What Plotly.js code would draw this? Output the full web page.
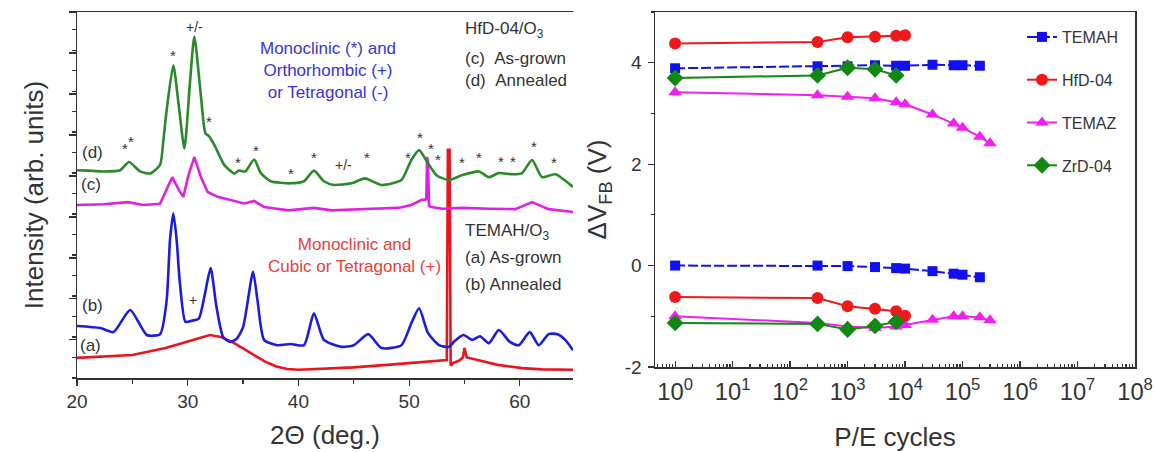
<!DOCTYPE html>
<html><head><meta charset="utf-8">
<script src="https://cdn.plot.ly/plotly-3.0.1.min.js"></script>
<style>html,body{margin:0;padding:0;background:#fff}#chart{width:1156px;height:452px}</style>
</head><body><div id="chart"></div>
<script>
// ---------- Left panel: XRD patterns (2Theta in deg, intensity in arb. units) ----------
const curveA_x = [20, 22, 25, 28, 30, 31, 32, 33, 34, 35, 36, 37, 38, 39, 40, 42, 45, 48, 50, 52, 53.4, 53.5, 53.65, 53.75, 54.0, 54.5, 54.85, 55.0, 55.2, 56, 57.2, 58, 60.2, 62, 64.8];
const curveA_y = [0.49, 0.52, 0.56, 0.73, 0.89, 0.98, 1.05, 1.0, 0.88, 0.72, 0.55, 0.4, 0.28, 0.22, 0.2, 0.22, 0.26, 0.32, 0.36, 0.4, 0.44, 5.57, 5.57, 0.3, 0.37, 0.42, 0.5, 0.73, 0.5, 0.45, 0.37, 0.32, 0.24, 0.21, 0.2];

const curveB_x = [20, 22.1, 23.3, 24.8, 26.3, 27.5, 28.1, 28.4, 28.7, 29.0, 29.3, 29.8, 30.4, 31.0, 31.5, 32.07, 32.6, 33.2, 33.8, 34.4, 35.0, 35.9, 36.3, 36.9, 38.1, 39.3, 40.5, 41.4, 42.3, 43.9, 45.0, 46.3, 47.5, 49.3, 50.2, 50.9, 51.7, 52.7, 53.6, 54.1, 54.9, 55.7, 56.4, 57.2, 58.1, 59.1, 59.9, 60.9, 61.7, 62.6, 63.4, 64.1, 64.8];
const curveB_y = [1.27, 1.22, 1.12, 1.66, 1.05, 1.07, 1.9, 3.37, 4.02, 3.37, 2.3, 1.37, 1.4, 1.45, 1.98, 2.68, 1.73, 1.0, 0.88, 0.95, 1.24, 2.59, 1.9, 0.93, 0.8, 0.83, 0.8, 1.58, 0.93, 0.76, 0.8, 1.07, 0.73, 0.8, 1.34, 1.7, 1.1, 0.8, 0.76, 0.9, 1.05, 0.93, 1.02, 0.85, 1.17, 0.88, 0.8, 1.12, 0.8, 1.07, 1.07, 0.93, 0.68];

const curveC_x = [20, 22.4, 24.6, 26.0, 27.5, 28.1, 28.6, 29.2, 29.6, 30.1, 30.6, 31.2, 31.8, 32.7, 33.9, 35.1, 36.0, 36.9, 39.1, 41.4, 43.0, 45.0, 46.6, 49.0, 50.2, 51.1, 51.55, 51.62, 51.7, 51.8, 52.0, 53.0, 54.8, 57.2, 59.6, 61.1, 62.6, 64.8];
const curveC_y = [4.22, 4.24, 4.29, 4.22, 4.25, 4.59, 4.9, 4.59, 4.42, 4.98, 5.39, 4.9, 4.54, 4.42, 4.34, 4.26, 4.32, 4.17, 4.09, 4.15, 4.09, 4.12, 4.13, 4.15, 4.22, 4.34, 4.36, 5.39, 5.3, 4.2, 4.17, 4.13, 4.15, 4.13, 4.12, 4.29, 4.12, 4.05];

const curveD_x = [20, 21, 22.4, 23.9, 24.7, 25.7, 26.6, 27.5, 27.8, 28.1, 28.7, 29.2, 29.7, 30.2, 30.6, 31.2, 31.6, 31.9, 32.4, 33.3, 34.2, 34.6, 35.2, 36.0, 36.6, 37.5, 39.3, 40.5, 41.4, 42.3, 43.2, 44.8, 46.0, 47.5, 49.3, 50.2, 50.9, 51.7, 52.5, 53.6, 54.8, 56.3, 57.2, 58.1, 59.3, 60.2, 61.1, 62.0, 63.2, 64.8];
const curveD_y = [5.07, 5.06, 5.04, 5.07, 5.27, 5.04, 4.99, 5.2, 5.8, 6.54, 7.63, 6.62, 5.6, 7.2, 8.33, 6.86, 5.97, 5.91, 5.69, 5.2, 4.99, 5.06, 5.04, 5.33, 5.0, 4.8, 4.75, 4.8, 5.06, 4.8, 4.71, 4.75, 4.87, 4.71, 4.83, 5.32, 5.56, 5.24, 4.94, 4.83, 4.95, 5.04, 4.9, 5.0, 4.97, 5.0, 5.32, 4.9, 4.97, 4.66];

// peak markers
const starX = [28.7, 31.9, 24.3, 24.9, 34.5, 36.2, 39.3, 41.4, 46.2, 49.9, 51.0, 52.0, 52.6, 54.8, 56.3, 58.3, 59.4, 61.3, 63.1];
const starY = [8.0, 6.37, 5.73, 5.9, 5.39, 5.68, 5.12, 5.49, 5.49, 5.51, 5.98, 5.71, 5.46, 5.39, 5.49, 5.41, 5.41, 5.76, 5.39];
const signText = ['+/-', '+/-', '+'];
const signX = [30.6, 44.1, 30.5];
const signY = [8.56, 5.2, 1.9];

// curve labels
const curveLabels = ['(a)', '(b)', '(c)', '(d)'];
const curveLabelX = [21.2, 21.4, 21.3, 21.4];
const curveLabelY = [0.8, 1.78, 4.71, 5.49];

// text blocks
const blueNote = 'Monoclinic (*) and<br>Orthorhombic (+)<br>or Tetragonal (-)';
const redNote = 'Monoclinic and<br>Cubic or Tetragonal (+)';
const hfdNote = ['HfD-04/O<sub>3</sub>', '(c)\u00a0\u00a0As-grown', '(d)\u00a0\u00a0Annealed'];
const hfdNoteY = [8.49, 7.8, 7.27];
const temahNote = ['TEMAH/O<sub>3</sub>', '(a) As-grown', '(b) Annealed'];
const temahNoteY = [3.56, 2.93, 2.29];

// ---------- Right panel: flat-band voltage shift vs P/E cycles ----------
const temahX = [1, 300, 1000, 3000, 7000, 10000, 30000, 70000, 100000, 200000];
const temahUp = [3.89, 3.93, 3.93, 3.95, 3.94, 3.94, 3.96, 3.95, 3.95, 3.94];
const temahDown = [0.0, 0.0, -0.01, -0.03, -0.05, -0.06, -0.11, -0.16, -0.18, -0.23];

const hfdX = [1, 300, 1000, 3000, 7000, 10000];
const hfdUp = [4.38, 4.41, 4.5, 4.51, 4.53, 4.54];
const hfdDown = [-0.62, -0.64, -0.8, -0.85, -0.9, -0.99];

const temazX = [1, 300, 1000, 3000, 7000, 10000, 30000, 70000, 100000, 200000, 300000];
const temazUp = [3.42, 3.36, 3.33, 3.3, 3.22, 3.18, 2.98, 2.8, 2.72, 2.54, 2.41];
const temazDown = [-1.0, -1.13, -1.2, -1.23, -1.2, -1.17, -1.07, -1.0, -1.0, -1.02, -1.08];

const zrdX = [1, 300, 1000, 3000, 7000];
const zrdUp = [3.7, 3.75, 3.9, 3.87, 3.75];
const zrdDown = [-1.13, -1.15, -1.26, -1.19, -1.11];

// log-axis labels: Plotly writes 10^0 and 10^1 as "1" and "10"; alias them to powers
const logLabelAlias = {'1': '10<sup>0</sup>', '10': '10<sup>1</sup>'};
const yTickVals2 = [-2, 0, 2, 4];
const yTickText2 = ['-2', '0', '2', '4'];

// ---------- build ----------
const FONT = 'Liberation Sans, Arial, sans-serif';
const DARK = '#333333';

function xrd(x, y, color, shape) {
  return {x: x, y: y, type: 'scatter', mode: 'lines', xaxis: 'x', yaxis: 'y',
    line: {color: color, width: 2.6, shape: shape, smoothing: 0.6}, showlegend: false, hoverinfo: 'skip'};
}
function branch(x, up, down) {
  return {x: x.concat([null], x), y: up.concat([null], down)};
}
function pe(name, x, up, down, color, symbol, size, dash, rank) {
  const b = branch(x, up, down);
  return {x: b.x, y: b.y, name: name, type: 'scatter', mode: 'lines+markers', xaxis: 'x2', yaxis: 'y2',
    connectgaps: false, legendrank: rank, legendgroup: name,
    line: {color: color, width: 2, dash: dash},
    marker: {color: color, symbol: symbol, size: size, line: {width: 0}}};
}

const data = [
  xrd(curveA_x, curveA_y, '#e8141e', 'linear'),
  xrd(curveC_x, curveC_y, '#e020e0', 'linear'),
  xrd(curveB_x, curveB_y, '#1c1ce0', 'spline'),
  xrd(curveD_x, curveD_y, '#2a8a2a', 'spline'),
  pe('TEMAZ', temazX, temazUp, temazDown, '#f020f0', 'triangle-up', 12, 'solid', 3),
  pe('TEMAH', temahX, temahUp, temahDown, '#1010f0', 'square', 10, '10px,3px', 1),
  pe('HfD-04', hfdX, hfdUp, hfdDown, '#f01818', 'circle', 12, 'solid', 2),
  pe('ZrD-04', zrdX, zrdUp, zrdDown, '#118811', 'diamond', 13, 'solid', 4)
];

const ann = [];
starX.forEach((x, i) => ann.push({x: x, y: starY[i], xref: 'x', yref: 'y', text: '*', showarrow: false,
  font: {family: FONT, size: 15, color: DARK}, yshift: -5}));
signText.forEach((t, i) => ann.push({x: signX[i], y: signY[i], xref: 'x', yref: 'y', text: t, showarrow: false,
  font: {family: FONT, size: 14, color: DARK}}));
curveLabels.forEach((t, i) => ann.push({x: curveLabelX[i], y: curveLabelY[i], xref: 'x', yref: 'y', text: t, showarrow: false,
  font: {family: FONT, size: 17, color: DARK}}));
ann.push({x: 42.7, y: 7.51, xref: 'x', yref: 'y', text: blueNote, showarrow: false, align: 'center',
  font: {family: FONT, size: 17, color: '#3535d5'}});
ann.push({x: 45.1, y: 2.98, xref: 'x', yref: 'y', text: redNote, showarrow: false, align: 'center',
  font: {family: FONT, size: 17, color: '#e84038'}});
hfdNote.forEach((t, i) => ann.push({x: 54.85, y: hfdNoteY[i], xref: 'x', yref: 'y', text: t, showarrow: false,
  xanchor: 'left', font: {family: FONT, size: 17, color: DARK}}));
temahNote.forEach((t, i) => ann.push({x: 54.85, y: temahNoteY[i], xref: 'x', yref: 'y', text: t, showarrow: false,
  xanchor: 'left', font: {family: FONT, size: 17, color: DARK}}));

const layout = {
  width: 1156, height: 452,
  margin: {l: 0, r: 0, t: 0, b: 0},
  paper_bgcolor: '#ffffff', plot_bgcolor: '#ffffff',
  font: {family: FONT, color: DARK},
  showlegend: true,
  legend: {x: 1022 / 1156, y: 1 - 20 / 452, xanchor: 'left', yanchor: 'top', bgcolor: 'rgba(0,0,0,0)',
    font: {family: FONT, size: 16, color: DARK}, tracegroupgap: 19},
  xaxis: {domain: [77 / 1156, 573 / 1156], range: [20, 64.8], dtick: 10, tick0: 20,
    ticks: 'outside', ticklen: 6, tickwidth: 1.2, tickcolor: DARK,
    minor: {dtick: 5, ticks: 'outside', ticklen: 4, tickcolor: DARK},
    showline: true, linecolor: DARK, linewidth: 1.5, mirror: true, showgrid: false, zeroline: false,
    tickfont: {family: FONT, size: 19, color: DARK},
    title: {text: '2\u0398 (deg.)', font: {family: FONT, size: 26, color: DARK}, standoff: 14}},
  yaxis: {domain: [1 - 378 / 452, 1 - 12 / 452], range: [0, 8.93], tick0: 0.93, dtick: 1,
    ticks: 'outside', ticklen: 7, tickwidth: 1.2, tickcolor: DARK,
    minor: {dtick: 0.5, ticks: 'outside', ticklen: 4, tickcolor: DARK},
    showticklabels: false, showline: true, linecolor: DARK, linewidth: 1.5, showgrid: false, zeroline: false,
    title: {text: 'Intensity (arb. units)', font: {family: FONT, size: 26, color: DARK}, standoff: 17}},
  xaxis2: {domain: [655 / 1156, 1135 / 1156], type: 'log', range: [-0.35, 8], anchor: 'y2',
    tickmode: 'linear', tick0: 0, dtick: 1, exponentformat: 'power', labelalias: logLabelAlias,
    ticks: 'inside', ticklen: 6, tickwidth: 1.2, tickcolor: DARK,
    minor: {dtick: 'D1', ticks: 'inside', ticklen: 3, tickcolor: DARK, showgrid: false},
    showline: true, linecolor: DARK, linewidth: 1.5, mirror: true, showgrid: false, zeroline: false,
    tickfont: {family: FONT, size: 19, color: DARK}, ticklabelstandoff: 4,
    title: {text: 'P/E cycles', font: {family: FONT, size: 26, color: DARK}, standoff: 28}},
  yaxis2: {domain: [1 - 367 / 452, 1 - 12 / 452], range: [-2, 5], anchor: 'x2',
    tickmode: 'array', tickvals: yTickVals2, ticktext: yTickText2,
    ticks: 'outside', ticklen: 6, tickwidth: 1.2, tickcolor: DARK,
    minor: {dtick: 1, ticks: 'outside', ticklen: 3, tickcolor: DARK},
    showline: true, linecolor: DARK, linewidth: 1.5, mirror: true, showgrid: false, zeroline: false,
    tickfont: {family: FONT, size: 19, color: DARK}, ticklabelstandoff: 2,
    title: {text: '\u0394V<sub>FB</sub> (V)', font: {family: FONT, size: 26, color: DARK}, standoff: 10}},
  annotations: ann
};

Plotly.newPlot('chart', data, layout, {displayModeBar: false, staticPlot: true});
</script></body></html>
